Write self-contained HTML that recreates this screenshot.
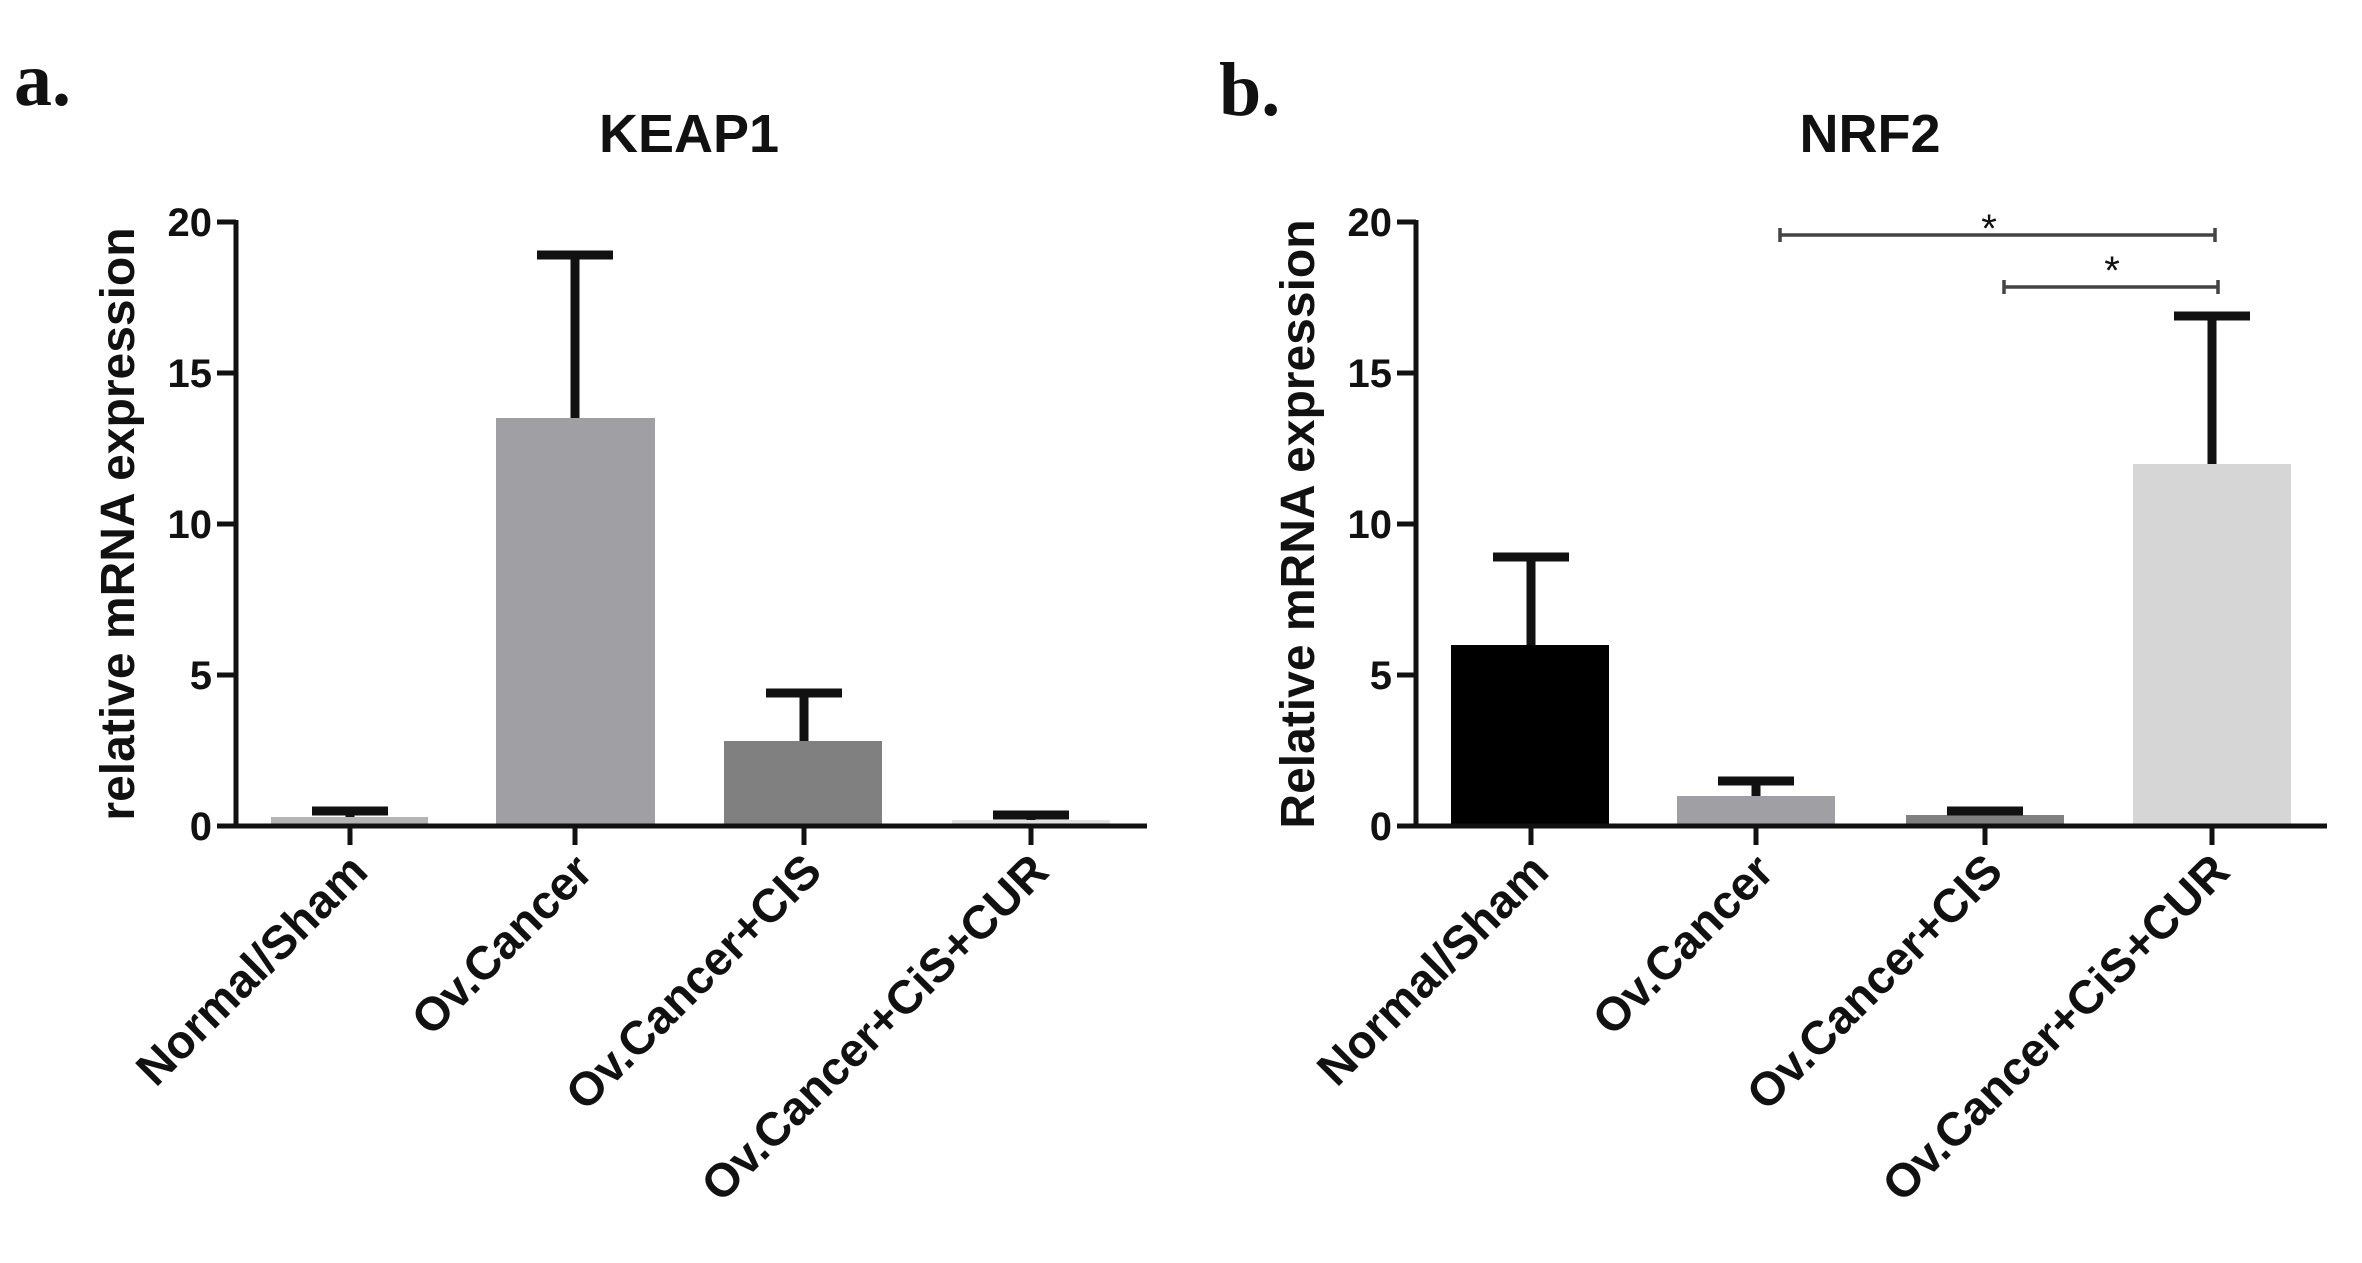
<!DOCTYPE html>
<html><head><meta charset="utf-8"><style>
html,body{margin:0;padding:0;background:#fff}
svg{display:block}
text{font-family:"Liberation Sans",Arial,sans-serif;font-weight:bold;fill:#111}
</style></head><body>
<svg width="2362" height="1263" viewBox="0 0 2362 1263" xmlns="http://www.w3.org/2000/svg">
<!-- Panel a -->
<text x="14" y="105" style="font-family:'Liberation Serif',serif;font-size:76px">a.</text>
<text x="689" y="152" text-anchor="middle" style="font-size:54px">KEAP1</text>
<text transform="translate(134,524) rotate(-90)" text-anchor="middle" style="font-size:48px">relative mRNA expression</text>
<g style="font-size:40px" text-anchor="end">
<text x="212" y="236">20</text><text x="212" y="387">15</text><text x="212" y="538">10</text><text x="212" y="689">5</text><text x="212" y="840">0</text>
</g>
<rect x="271" y="817" width="157" height="9" fill="#b4b4b4"/>
<rect x="496" y="418" width="159" height="408" fill="#a0a0a4"/>
<rect x="724" y="741" width="158" height="85" fill="#808080"/>
<rect x="952" y="820" width="158" height="6" fill="#e0e0e0"/>
<g stroke="#111" stroke-width="9" fill="none">
<path d="M350 817V811M312 811H388"/>
<path d="M575 418V255M537 255H613"/>
<path d="M804 741V693M766 693H842"/>
<path d="M1031 820V815M993 815H1069"/>
</g>
<g stroke="#111" stroke-width="5" fill="none">
<path d="M236 220V828M1147 826H234"/>
<path d="M217 222H236M217 373H236M217 524H236M217 675H236M217 826H236"/>
<path d="M350 826V845M575 826V845M804 826V845M1031 826V845"/>
</g>
<g style="font-size:47px" text-anchor="end">
<text transform="translate(370,874) rotate(-45)">Normal/Sham</text>
<text transform="translate(595,874) rotate(-45)">Ov.Cancer</text>
<text transform="translate(824,874) rotate(-45)">Ov.Cancer+CIS</text>
<text transform="translate(1051,874) rotate(-45)">Ov.Cancer+CiS+CUR</text>
</g>
<!-- Panel b -->
<text x="1219" y="115" style="font-family:'Liberation Serif',serif;font-size:76px">b.</text>
<text x="1870" y="152" text-anchor="middle" style="font-size:54px">NRF2</text>
<text transform="translate(1314,524) rotate(-90)" text-anchor="middle" style="font-size:48px">Relative mRNA expression</text>
<g style="font-size:40px" text-anchor="end">
<text x="1392" y="236">20</text><text x="1392" y="387">15</text><text x="1392" y="538">10</text><text x="1392" y="689">5</text><text x="1392" y="840">0</text>
</g>
<rect x="1451" y="645" width="158" height="181" fill="#000"/>
<rect x="1677" y="796" width="158" height="30" fill="#a0a0a4"/>
<rect x="1906" y="815" width="158" height="11" fill="#808080"/>
<rect x="2133" y="464" width="158" height="362" fill="#d6d6d6"/>
<g stroke="#111" stroke-width="9" fill="none">
<path d="M1531 645V557M1493 557H1569"/>
<path d="M1756 796V781M1718 781H1794"/>
<path d="M1985 815V811M1947 811H2023"/>
<path d="M2212 464V316M2174 316H2250"/>
</g>
<g stroke="#444" stroke-width="3.5" fill="none">
<path d="M1780 235H2215M1780 228V242M2215 228V242"/>
<path d="M2004 287H2218M2004 280V294M2218 280V294"/>
</g>
<text x="1989" y="242" text-anchor="middle" style="font-size:40px;font-weight:normal">*</text>
<text x="2112" y="284" text-anchor="middle" style="font-size:40px;font-weight:normal">*</text>
<g stroke="#111" stroke-width="5" fill="none">
<path d="M1416 220V828M2327 826H1414"/>
<path d="M1397 222H1416M1397 373H1416M1397 524H1416M1397 675H1416M1397 826H1416"/>
<path d="M1531 826V845M1756 826V845M1985 826V845M2212 826V845"/>
</g>
<g style="font-size:47px" text-anchor="end">
<text transform="translate(1551,874) rotate(-45)">Normal/Sham</text>
<text transform="translate(1776,874) rotate(-45)">Ov.Cancer</text>
<text transform="translate(2005,874) rotate(-45)">Ov.Cancer+CIS</text>
<text transform="translate(2232,874) rotate(-45)">Ov.Cancer+CiS+CUR</text>
</g>
</svg>
</body></html>
